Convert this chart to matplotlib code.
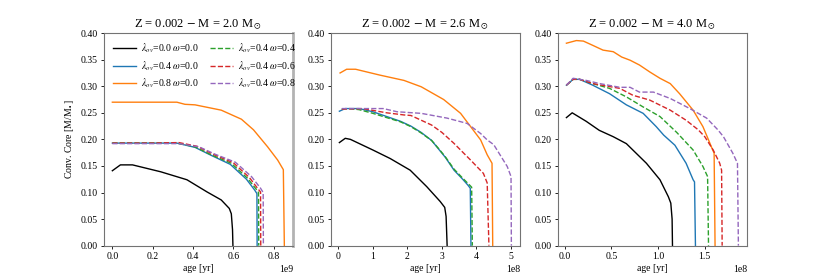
import matplotlib
matplotlib.use("Agg")
import matplotlib.pyplot as plt
import numpy as np

plt.rcParams['font.family'] = ['Liberation Serif', 'DejaVu Serif']
plt.rcParams['mathtext.fontset'] = 'stix'

titles = ["Z = 0.002 $-$ M = 2.0 M$_\\odot$",
          "Z = 0.002 $-$ M = 2.6 M$_\\odot$",
          "Z = 0.002 $-$ M = 4.0 M$_\\odot$"]
labels = ["$\\lambda_{ov}$=0.0 $\\omega$=0.0", "$\\lambda_{ov}$=0.4 $\\omega$=0.0",
          "$\\lambda_{ov}$=0.8 $\\omega$=0.0", "$\\lambda_{ov}$=0.4 $\\omega$=0.4",
          "$\\lambda_{ov}$=0.4 $\\omega$=0.6", "$\\lambda_{ov}$=0.4 $\\omega$=0.8"]
colors = ["black", "C0", "C1", "C2", "C3", "C4"]
styles = ["-", "-", "-", "--", "--", "--"]

# M = 2.0 (age in 1e9 yr)
m20_black_x = [0.0, 0.04, 0.1, 0.24, 0.37, 0.47, 0.54, 0.58, 0.59, 0.596, 0.598]
m20_black_y = [0.141, 0.152, 0.152, 0.139, 0.124, 0.101, 0.086, 0.07, 0.06, 0.03, 0.0]
m20_blue_x = [0.0, 0.1, 0.2, 0.32, 0.41, 0.49, 0.585, 0.665, 0.705, 0.717, 0.718]
m20_blue_y = [0.193, 0.193, 0.193, 0.193, 0.185, 0.17, 0.153, 0.125, 0.105, 0.098, 0.0]
m20_orange_x = [0.0, 0.1, 0.2, 0.32, 0.36, 0.41, 0.54, 0.64, 0.70, 0.77, 0.82, 0.848, 0.853]
m20_orange_y = [0.27, 0.27, 0.27, 0.27, 0.266, 0.265, 0.255, 0.238, 0.218, 0.186, 0.161, 0.143, 0.0]
m20_green_x = [0.0, 0.1, 0.2, 0.32, 0.41, 0.49, 0.59, 0.67, 0.712, 0.725, 0.726]
m20_green_y = [0.193, 0.193, 0.193, 0.193, 0.186, 0.171, 0.155, 0.127, 0.107, 0.1, 0.0]
m20_red_x = [0.0, 0.1, 0.2, 0.33, 0.42, 0.5, 0.6, 0.68, 0.72, 0.735, 0.736]
m20_red_y = [0.193, 0.193, 0.193, 0.194, 0.187, 0.172, 0.156, 0.128, 0.108, 0.101, 0.0]
m20_purple_x = [0.0, 0.1, 0.2, 0.33, 0.43, 0.51, 0.61, 0.69, 0.735, 0.748, 0.749]
m20_purple_y = [0.192, 0.192, 0.192, 0.192, 0.186, 0.172, 0.157, 0.13, 0.108, 0.1, 0.0]

# M = 2.6 (age in 1e8 yr)
m26_black_x = [0.03, 0.2, 0.35, 1.0, 1.5, 2.08, 2.56, 2.95, 3.08, 3.12, 3.15]
m26_black_y = [0.194, 0.202, 0.2, 0.18, 0.164, 0.142, 0.111, 0.083, 0.072, 0.055, 0.0]
m26_blue_x = [0.03, 0.2, 0.6, 1.0, 1.4, 1.8, 2.1, 2.4, 2.7, 2.9, 3.1, 3.35, 3.6, 3.75, 3.82, 3.84]
m26_blue_y = [0.253, 0.258, 0.258, 0.252, 0.243, 0.234, 0.225, 0.213, 0.198, 0.182, 0.166, 0.142, 0.125, 0.114, 0.108, 0.0]
m26_orange_x = [0.05, 0.24, 0.5, 1.2, 1.9, 2.4, 3.05, 3.54, 3.83, 4.12, 4.31, 4.45, 4.47]
m26_orange_y = [0.325, 0.332, 0.332, 0.321, 0.311, 0.299, 0.275, 0.249, 0.224, 0.199, 0.171, 0.155, 0.0]
m26_green_x = [0.1, 0.3, 0.6, 1.0, 1.4, 1.8, 2.1, 2.4, 2.7, 2.9, 3.1, 3.35, 3.6, 3.77, 3.86, 3.88]
m26_green_y = [0.257, 0.258, 0.256, 0.249, 0.241, 0.233, 0.224, 0.212, 0.198, 0.183, 0.167, 0.144, 0.127, 0.116, 0.11, 0.0]
m26_red_x = [0.1, 0.7, 1.4, 1.9, 2.1, 2.4, 2.7, 3.0, 3.34, 3.83, 4.2, 4.31, 4.36]
m26_red_y = [0.257, 0.258, 0.25, 0.246, 0.245, 0.236, 0.227, 0.213, 0.193, 0.161, 0.136, 0.118, 0.0]
m26_purple_x = [0.1, 0.7, 1.3, 1.7, 2.4, 3.15, 3.73, 4.12, 4.31, 4.5, 4.89, 5.0, 5.01]
m26_purple_y = [0.258, 0.258, 0.258, 0.252, 0.249, 0.24, 0.23, 0.211, 0.199, 0.19, 0.149, 0.13, 0.0]

# M = 4.0 (age in 1e8 yr)
m40_black_x = [0.018, 0.08, 0.23, 0.37, 0.52, 0.66, 0.875, 1.02, 1.11, 1.136, 1.15, 1.154]
m40_black_y = [0.241, 0.25, 0.234, 0.217, 0.205, 0.192, 0.155, 0.124, 0.092, 0.08, 0.05, 0.0]
m40_blue_x = [0.018, 0.09, 0.16, 0.3, 0.48, 0.66, 0.84, 0.98, 1.06, 1.18, 1.3, 1.375, 1.39, 1.40]
m40_blue_y = [0.302, 0.313, 0.313, 0.302, 0.286, 0.265, 0.249, 0.224, 0.208, 0.189, 0.155, 0.124, 0.12, 0.0]
m40_orange_x = [0.018, 0.125, 0.2, 0.3, 0.41, 0.52, 0.61, 0.7, 0.8, 0.91, 1.02, 1.13, 1.23, 1.375, 1.48, 1.54, 1.58, 1.6, 1.61]
m40_orange_y = [0.381, 0.386, 0.385, 0.377, 0.368, 0.365, 0.355, 0.349, 0.34, 0.327, 0.315, 0.305, 0.286, 0.255, 0.224, 0.199, 0.182, 0.174, 0.0]
m40_green_x = [0.018, 0.09, 0.16, 0.3, 0.48, 0.66, 0.84, 1.02, 1.2, 1.375, 1.48, 1.53, 1.54]
m40_green_y = [0.302, 0.313, 0.313, 0.305, 0.296, 0.28, 0.261, 0.243, 0.213, 0.18, 0.149, 0.13, 0.0]
m40_red_x = [0.018, 0.09, 0.16, 0.3, 0.59, 0.73, 0.91, 1.13, 1.3, 1.43, 1.5, 1.59, 1.66, 1.68, 1.686]
m40_red_y = [0.302, 0.313, 0.313, 0.305, 0.296, 0.283, 0.274, 0.255, 0.236, 0.218, 0.205, 0.18, 0.155, 0.142, 0.0]
m40_purple_x = [0.018, 0.09, 0.23, 0.375, 0.59, 0.7, 0.8, 0.95, 1.13, 1.34, 1.52, 1.64, 1.7, 1.8, 1.85, 1.86]
m40_purple_y = [0.302, 0.315, 0.311, 0.305, 0.298, 0.298, 0.289, 0.289, 0.277, 0.258, 0.24, 0.218, 0.205, 0.174, 0.155, 0.0]

panels = [
    (1e9, [(m20_black_x, m20_black_y), (m20_blue_x, m20_blue_y), (m20_orange_x, m20_orange_y),
           (m20_green_x, m20_green_y), (m20_red_x, m20_red_y), (m20_purple_x, m20_purple_y)]),
    (1e8, [(m26_black_x, m26_black_y), (m26_blue_x, m26_blue_y), (m26_orange_x, m26_orange_y),
           (m26_green_x, m26_green_y), (m26_red_x, m26_red_y), (m26_purple_x, m26_purple_y)]),
    (1e8, [(m40_black_x, m40_black_y), (m40_blue_x, m40_blue_y), (m40_orange_x, m40_orange_y),
           (m40_green_x, m40_green_y), (m40_red_x, m40_red_y), (m40_purple_x, m40_purple_y)]),
]

fig, axes = plt.subplots(1, 3, figsize=(8.3, 2.76), dpi=100)

for i, (ax, (scale, curves)) in enumerate(zip(axes, panels)):
    for (x, y), c, ls, lab in zip(curves, colors, styles, labels):
        ax.plot(np.array(x) * scale, y, color=c, ls=ls, lw=1.0, label=lab)
    ax.set_ylim(0, 0.40)
    ax.set_yticks(np.arange(0, 0.41, 0.05))
    ax.set_title(titles[i], fontsize=9, pad=4)
    ax.set_xlabel("age [yr]", fontsize=7, labelpad=2)
    ax.tick_params(labelsize=7, length=2.5, width=0.6, pad=2)
    p = int(np.log10(scale))
    ax.ticklabel_format(axis="x", style="sci", scilimits=(p, p))
    ax.xaxis.get_offset_text().set_fontsize(7)
    for sp in ax.spines.values():
        sp.set_color("0.45")
        sp.set_linewidth(0.8)

axes[0].spines["right"].set_color("0.7")
axes[0].spines["right"].set_linewidth(2)
axes[0].set_ylabel("Conv. Core [M/M$_\\bullet$]", fontsize=7, labelpad=3)
axes[0].legend(ncol=2, frameon=False, fontsize=7, loc="upper left",
               handlelength=2.4, handletextpad=0.5, columnspacing=1.2, labelspacing=0.4)

plt.savefig("out.png", dpi=100)
